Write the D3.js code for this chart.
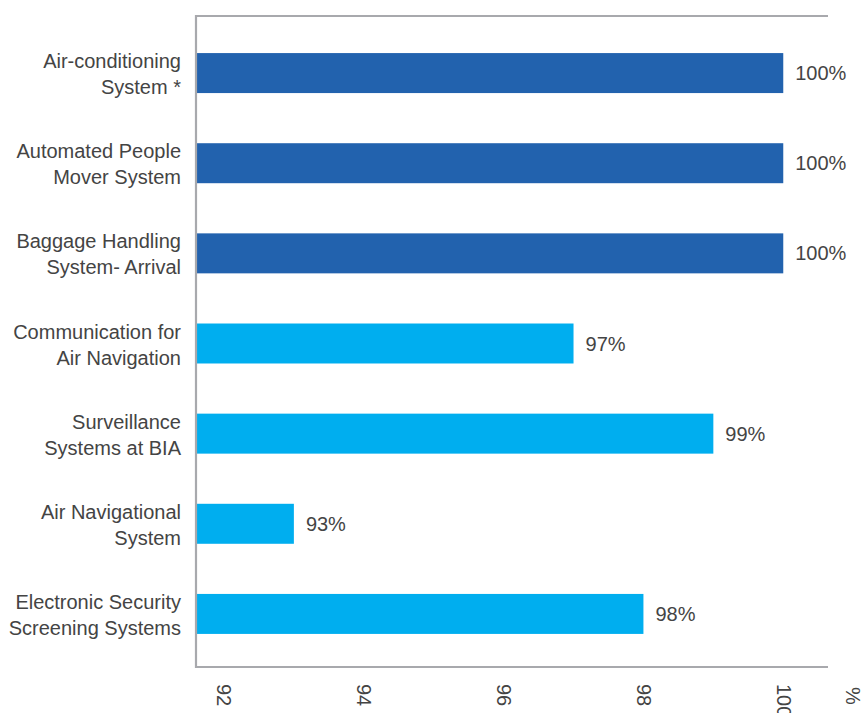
<!DOCTYPE html>
<html>
<head>
<meta charset="utf-8">
<script src="https://cdn.jsdelivr.net/npm/d3@7"></script>
<style>
  html, body { margin: 0; padding: 0; background: #ffffff; }
  svg { display: block; }
  text { font-family: "Liberation Sans", Arial, sans-serif; fill: #444444; }
</style>
</head>
<body>
<svg id="chart" width="865" height="713"></svg>
<script>
// Availability by system (%)
const categories = [
  ["Air-conditioning", "System *"],
  ["Automated People", "Mover System"],
  ["Baggage Handling", "System- Arrival"],
  ["Communication for", "Air Navigation"],
  ["Surveillance", "Systems at BIA"],
  ["Air Navigational", "System"],
  ["Electronic Security", "Screening Systems"]
];
const values = [100, 100, 100, 97, 99, 93, 98];
const groups = ["dark", "dark", "dark", "light", "light", "light", "light"];
const tickValues = [92, 94, 96, 98, 100];
const axisUnit = "%";

const colors = { dark: "#2262ae", light: "#00aeef" };
const frameColor = "#a8a9ad";
const fontSize = "20px";

const svg = d3.select("#chart");
const plot = { left: 196, right: 828, top: 16, bottom: 667 };

const x = d3.scaleLinear().domain([91.6, 100.64]).range([plot.left, plot.right]);
const y = d3.scaleBand()
  .domain(d3.range(categories.length))
  .range([28, 659])
  .paddingInner(0.5564)
  .paddingOuter(0.2782);

// Bars
svg.append("g").selectAll("rect")
  .data(values)
  .join("rect")
  .attr("x", x.range()[0])
  .attr("y", (d, i) => y(i))
  .attr("width", d => x(d) - x.range()[0])
  .attr("height", y.bandwidth())
  .attr("fill", (d, i) => colors[groups[i]]);

// Value labels
svg.append("g").selectAll("text")
  .data(values)
  .join("text")
  .attr("x", d => x(d) + 12)
  .attr("y", (d, i) => y(i) + y.bandwidth() / 2)
  .attr("dy", "0.35em")
  .style("font-size", fontSize)
  .text(d => d + "%");

// Category labels (two lines each)
const cat = svg.append("g").selectAll("text")
  .data(categories)
  .join("text")
  .attr("text-anchor", "end")
  .style("font-size", fontSize)
  .attr("transform", (d, i) => `translate(181,${y(i) + y.bandwidth() / 2})`);
cat.append("tspan").attr("x", 0).attr("y", -12).attr("dy", "0.35em").text(d => d[0]);
cat.append("tspan").attr("x", 0).attr("y", 14).attr("dy", "0.35em").text(d => d[1]);

// Frame: top, left, bottom lines
svg.append("path")
  .attr("stroke", frameColor)
  .attr("stroke-width", 2.2)
  .attr("fill", "none")
  .attr("d", `M${plot.right},${plot.top}H${plot.left}V${plot.bottom}H${plot.right}`);

// Bottom axis tick labels, rotated
const xAxis = d3.axisBottom(x).tickValues(tickValues).tickSize(0).tickPadding(0);
const axisG = svg.append("g")
  .attr("transform", `translate(0,${plot.bottom})`)
  .call(xAxis);
axisG.select(".domain").remove();
axisG.selectAll("text")
  .attr("y", 0)
  .attr("x", 0)
  .attr("dy", 0)
  .attr("text-anchor", "start")
  .attr("transform", "translate(-7,17) rotate(90)")
  .style("font-size", fontSize)
  .style("font-family", "'Liberation Sans', Arial, sans-serif")
  .style("fill", "#444444");

// Unit label
svg.append("text")
  .attr("transform", `translate(${plot.right + 18},${plot.bottom + 20}) rotate(90)`)
  .style("font-size", fontSize)
  .text(axisUnit);
</script>
</body>
</html>
